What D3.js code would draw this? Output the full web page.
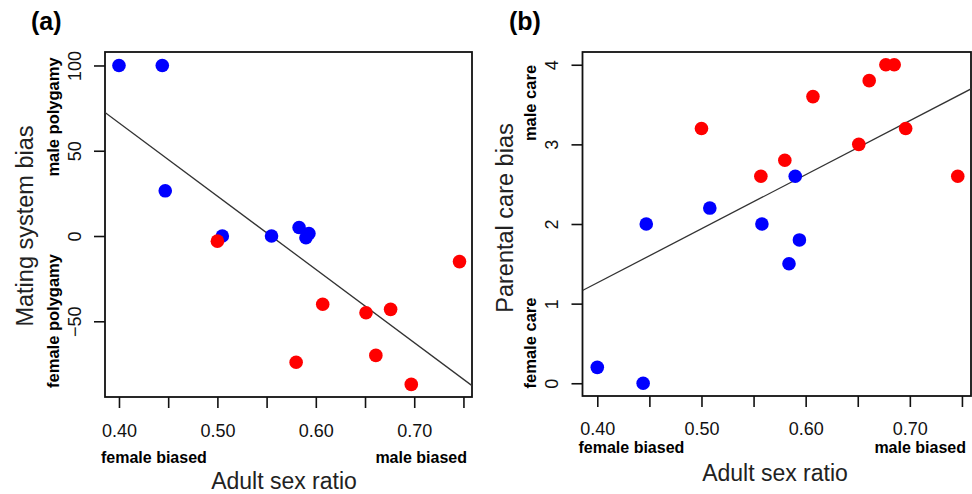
<!DOCTYPE html>
<html>
<head>
<meta charset="utf-8">
<script src="https://cdn.jsdelivr.net/npm/d3@7"></script>
<style>
  body { margin: 0; background: #fff; }
  svg { display: block; font-family: "Liberation Sans", Arial, sans-serif; }
</style>
</head>
<body>
<div class="panel"></div>
<script>
// Data

// (a) mating system bias vs adult sex ratio
const matingBlueASR = [0.400, 0.444, 0.447, 0.505, 0.555, 0.583, 0.590, 0.593];
const matingBlueBias = [100, 100, 26.5, 0, 0, 5, -1, 1.5];
const matingRedASR = [0.500, 0.580, 0.607, 0.651, 0.661, 0.676, 0.697, 0.746];
const matingRedBias = [-3, -74, -40, -45, -70, -43, -87, -15];
const matingFit = { intercept: 238.2, slope: -429.6 };

// (b) parental care bias vs adult sex ratio
const careBlueASR = [0.400, 0.444, 0.447, 0.508, 0.558, 0.584, 0.590, 0.594];
const careBlueBias = [0.2, 0, 2.0, 2.2, 2.0, 1.5, 2.6, 1.8];
const careRedASR = [0.500, 0.557, 0.580, 0.607, 0.651, 0.661, 0.677, 0.685, 0.696, 0.746];
const careRedBias = [3.2, 2.6, 2.8, 3.6, 3.0, 3.8, 4.0, 4.0, 3.2, 2.6];
const careFit = { intercept: -1.455, slope: 6.79 };

const xTicks = [0.40, 0.45, 0.50, 0.55, 0.60, 0.65, 0.70, 0.75];
const xTickLabels = ["0.40", "", "0.50", "", "0.60", "", "0.70", ""];
const matingTicks = [-50, 0, 50, 100];
const careTicks = [0, 1, 2, 3, 4];

const svg = d3.select(".panel").append("svg")
    .attr("width", 972)
    .attr("height", 494);

function drawPanel(opts) {
    const x = d3.scaleLinear().domain(opts.xDomain).range([opts.left, opts.right]);
    const y = d3.scaleLinear().domain(opts.yDomain).range([opts.bottom, opts.top]);
    const g = svg.append("g");

    // x axis
    const xAxis = g.append("g")
        .attr("transform", `translate(0,${opts.bottom})`)
        .call(d3.axisBottom(x).tickValues(xTicks)
            .tickFormat((d, i) => xTickLabels[i]).tickSize(11).tickPadding(opts.tickPad));
    xAxis.select(".domain").remove();
    xAxis.selectAll("line").attr("stroke", "#111").attr("stroke-width", 1.6);
    xAxis.selectAll("text").attr("font-size", 18).attr("fill", "#111")
        .attr("font-family", "Liberation Sans, Arial, sans-serif");

    // y axis with rotated labels
    const yAxis = g.append("g")
        .attr("transform", `translate(${opts.left},0)`)
        .call(d3.axisLeft(y).tickValues(opts.yTicks).tickSize(11)
            .tickFormat(d => d < 0 ? "\u221250" : String(d)));
    yAxis.select(".domain").remove();
    yAxis.selectAll("line").attr("stroke", "#111").attr("stroke-width", 1.6);
    yAxis.selectAll("text")
        .attr("transform", "rotate(-90)")
        .attr("x", 0).attr("y", opts.yLabelOffset).attr("dy", 0)
        .attr("text-anchor", "middle")
        .attr("font-size", 18).attr("fill", "#111")
        .attr("font-family", "Liberation Sans, Arial, sans-serif");

    // box
    g.append("rect")
        .attr("x", opts.left).attr("y", opts.top)
        .attr("width", opts.right - opts.left).attr("height", opts.bottom - opts.top)
        .attr("fill", "none").attr("stroke", "#111").attr("stroke-width", 1.8);

    // regression line, clipped to the box
    const clipId = "clip-" + opts.name;
    g.append("clipPath").attr("id", clipId).append("rect")
        .attr("x", opts.left).attr("y", opts.top)
        .attr("width", opts.right - opts.left).attr("height", opts.bottom - opts.top);
    const x0 = opts.xDomain[0], x1 = opts.xDomain[1];
    g.append("line")
        .attr("clip-path", `url(#${clipId})`)
        .attr("x1", x(x0)).attr("y1", y(opts.fit.intercept + opts.fit.slope * x0))
        .attr("x2", x(x1)).attr("y2", y(opts.fit.intercept + opts.fit.slope * x1))
        .attr("stroke", "#333").attr("stroke-width", 1.3);

    // points
    const blue = opts.blueX.map((v, i) => [v, opts.blueY[i]]);
    const red = opts.redX.map((v, i) => [v, opts.redY[i]]);
    g.selectAll(".blue").data(blue).enter().append("circle")
        .attr("cx", d => x(d[0])).attr("cy", d => y(d[1])).attr("r", 6.8)
        .attr("fill", "#0000ff");
    g.selectAll(".red").data(red).enter().append("circle")
        .attr("cx", d => x(d[0])).attr("cy", d => y(d[1])).attr("r", 6.8)
        .attr("fill", "#ff0000");

    // annotations
    g.append("text").attr("x", opts.panelX).attr("y", 30)
        .attr("font-size", 25).attr("font-weight", "bold").text(opts.panel);

    g.append("text").attr("x", opts.left - 4).attr("y", opts.bottom + opts.biasPad)
        .attr("font-size", 16).attr("font-weight", "bold").text("female biased");
    g.append("text").attr("x", opts.right - 5).attr("y", opts.bottom + opts.biasPad)
        .attr("text-anchor", "end")
        .attr("font-size", 16).attr("font-weight", "bold").text("male biased");
    g.append("text").attr("x", opts.titleX).attr("y", opts.bottom + opts.titlePad)
        .attr("text-anchor", "middle").attr("font-size", 23).attr("fill", "#222")
        .text("Adult sex ratio");

    g.append("text")
        .attr("transform", `translate(${opts.left + opts.yTitleOffset},${opts.yTitleY}) rotate(-90)`)
        .attr("text-anchor", "middle").attr("font-size", 23.5).attr("fill", "#222")
        .text(opts.yTitle);

    opts.sideLabels.forEach(s => {
        g.append("text")
            .attr("transform", `translate(${opts.left + opts.sideOffset},${s.y}) rotate(-90)`)
            .attr("text-anchor", "middle").attr("font-size", 16.5).attr("font-weight", "bold")
            .text(s.text);
    });
}

drawPanel({
    name: "a", panel: "(a)", panelX: 31,
    left: 105, right: 472, top: 52, bottom: 397,
    xDomain: [0.3858, 0.7587], yDomain: [-94.4, 107.9],
    yTicks: matingTicks, yLabelOffset: -24.5,
    tickPad: 16, biasPad: 66, titlePad: 92,
    blueX: matingBlueASR, blueY: matingBlueBias,
    redX: matingRedASR, redY: matingRedBias,
    fit: matingFit,
    titleX: 284, yTitle: "Mating system bias", yTitleOffset: -72, yTitleY: 226,
    sideOffset: -46.5,
    sideLabels: [{ text: "male polygamy", y: 117 }, { text: "female polygamy", y: 321 }]
});

drawPanel({
    name: "b", panel: "(b)", panelX: 509,
    left: 582.5, right: 971, top: 52, bottom: 396,
    xDomain: [0.3858, 0.7587], yDomain: [-0.16, 4.16],
    yTicks: careTicks, yLabelOffset: -24.5,
    tickPad: 15, biasPad: 57, titlePad: 85,
    blueX: careBlueASR, blueY: careBlueBias,
    redX: careRedASR, redY: careRedBias,
    fit: careFit,
    titleX: 775, yTitle: "Parental care bias", yTitleOffset: -70, yTitleY: 218,
    sideOffset: -46.5,
    sideLabels: [{ text: "male care", y: 103 }, { text: "female care", y: 343 }]
});
</script>
</body>
</html>
